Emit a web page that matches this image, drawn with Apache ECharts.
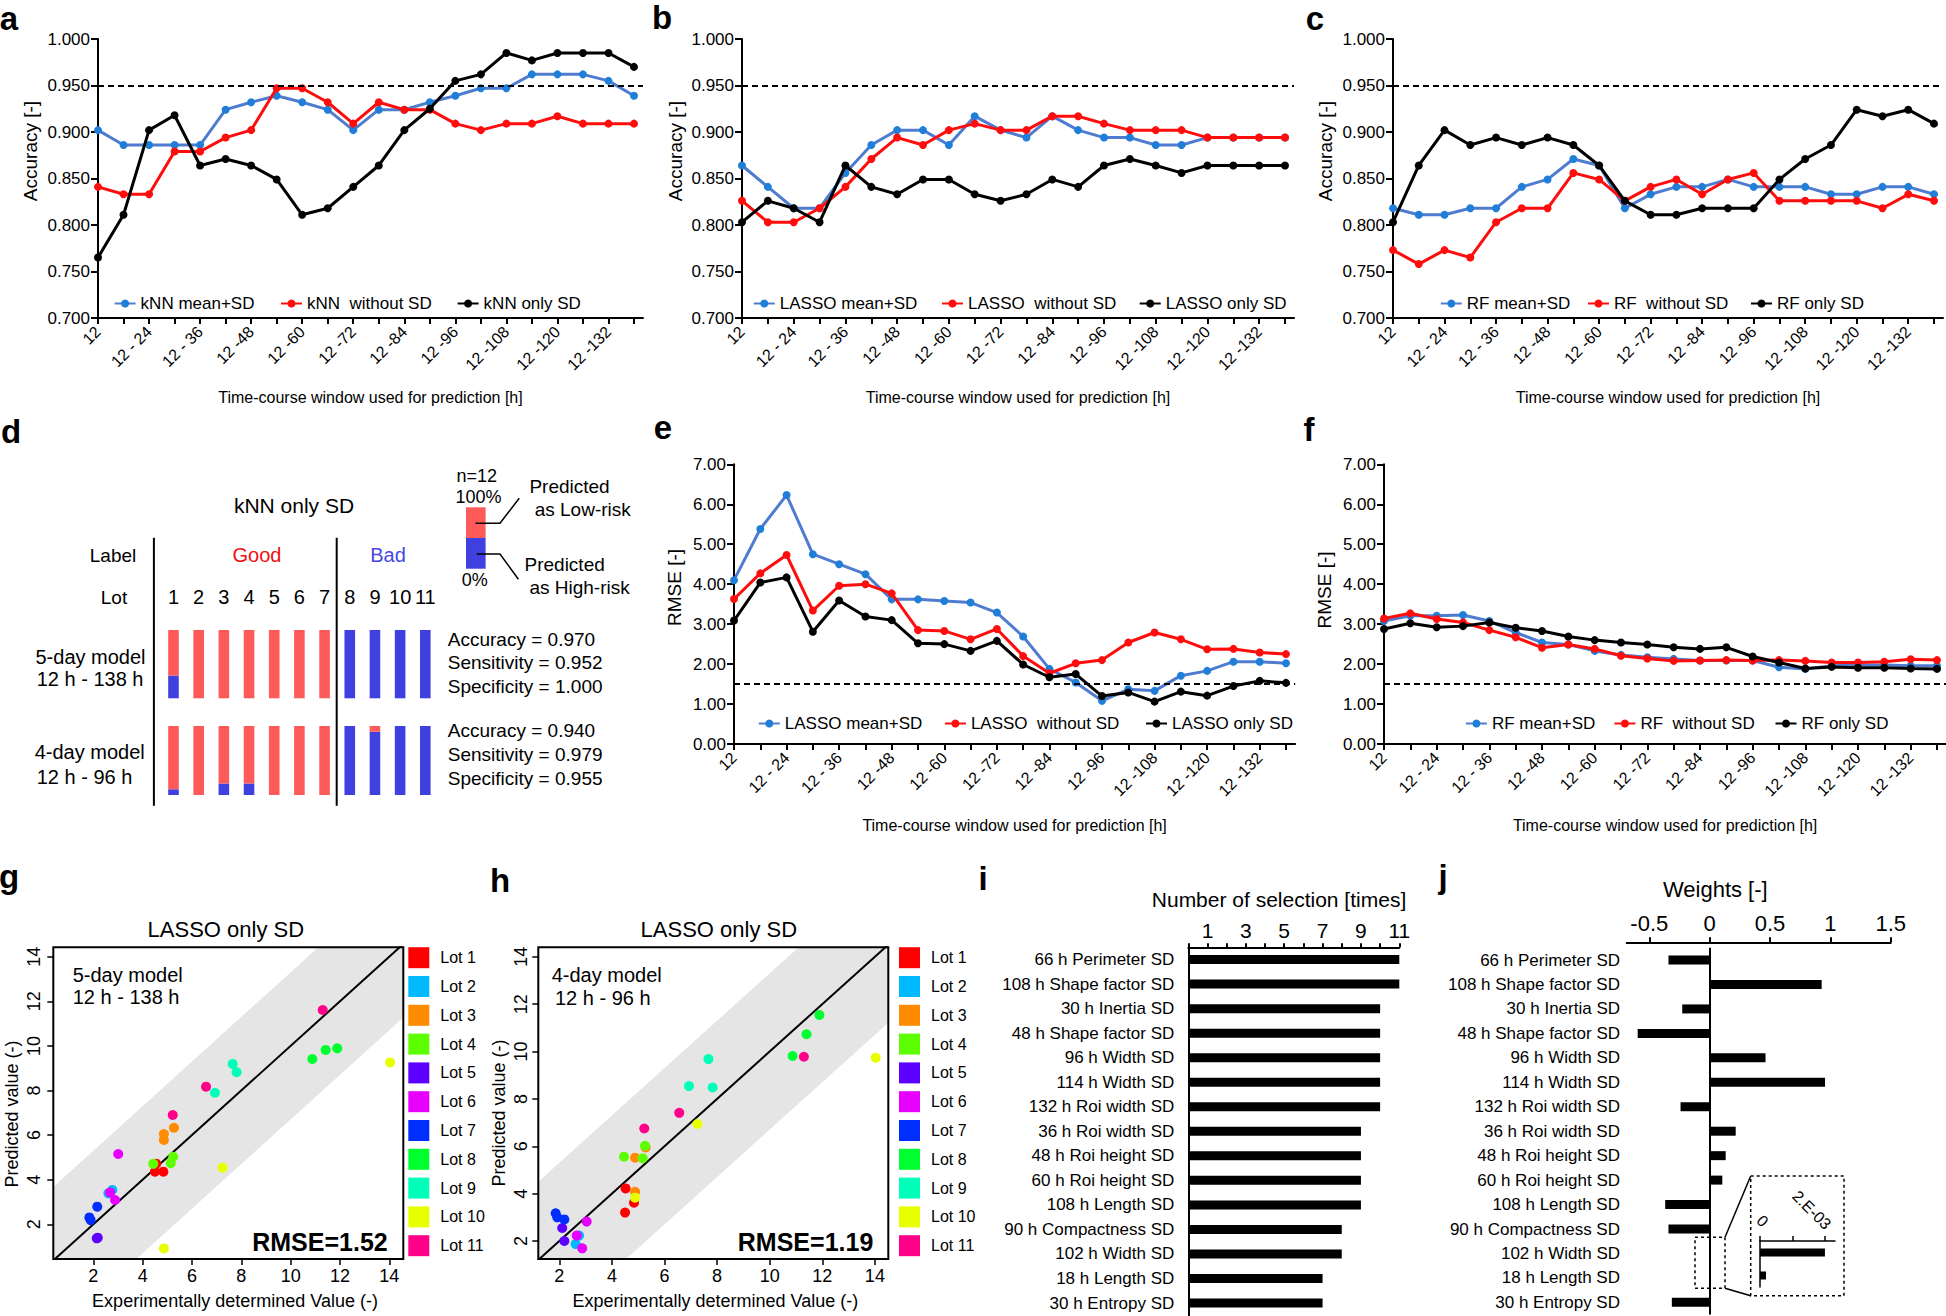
<!DOCTYPE html>
<html><head><meta charset="utf-8">
<script src="https://cdn.jsdelivr.net/npm/echarts@6/dist/echarts.min.js"></script>
<style>html,body{margin:0;padding:0;background:#fff}#c{width:1946px;height:1316px}</style>
</head><body><div id="c"></div>
<script>
const FF = '"Liberation Sans", Arial, Helvetica, sans-serif';

// ---------- data ----------
const windows = ['12','12 - 18','12 - 24','12 - 30','12 - 36','12 - 42','12 -48','12 -54','12 -60','12 -66','12 -72','12 -78','12 -84','12 -90','12 -96','12 -102','12 -108','12 -114','12 -120','12 -126','12 -132','12 -138'];

const kNN_meanSD = [0.902,0.886,0.886,0.886,0.886,0.924,0.932,0.939,0.932,0.924,0.902,0.924,0.924,0.932,0.939,0.947,0.947,0.962,0.962,0.962,0.955,0.939];
const kNN_noSD   = [0.841,0.833,0.833,0.879,0.879,0.894,0.902,0.947,0.947,0.932,0.909,0.932,0.924,0.924,0.909,0.902,0.909,0.909,0.917,0.909,0.909,0.909];
const kNN_onlySD = [0.765,0.811,0.902,0.918,0.864,0.871,0.864,0.849,0.811,0.818,0.841,0.864,0.902,0.925,0.955,0.962,0.985,0.977,0.985,0.985,0.985,0.970];

const LASSO_meanSD = [0.864,0.841,0.818,0.818,0.856,0.886,0.902,0.902,0.886,0.917,0.902,0.894,0.917,0.902,0.894,0.894,0.886,0.886,0.894,0.894,0.894,0.894];
const LASSO_noSD   = [0.826,0.803,0.803,0.818,0.841,0.871,0.894,0.886,0.902,0.909,0.902,0.902,0.917,0.917,0.909,0.902,0.902,0.902,0.894,0.894,0.894,0.894];
const LASSO_onlySD = [0.803,0.826,0.818,0.803,0.864,0.841,0.833,0.849,0.849,0.833,0.826,0.833,0.849,0.841,0.864,0.871,0.864,0.856,0.864,0.864,0.864,0.864];

const RF_meanSD = [0.818,0.811,0.811,0.818,0.818,0.841,0.849,0.871,0.864,0.818,0.833,0.841,0.841,0.849,0.841,0.841,0.841,0.833,0.833,0.841,0.841,0.833];
const RF_noSD   = [0.773,0.758,0.773,0.765,0.803,0.818,0.818,0.856,0.849,0.826,0.841,0.849,0.833,0.849,0.856,0.826,0.826,0.826,0.826,0.818,0.833,0.826];
const RF_onlySD = [0.803,0.864,0.902,0.886,0.894,0.886,0.894,0.886,0.864,0.826,0.811,0.811,0.818,0.818,0.818,0.849,0.871,0.886,0.924,0.917,0.924,0.909];

const rmseLASSO_meanSD = [4.10,5.38,6.23,4.75,4.50,4.25,3.62,3.62,3.58,3.54,3.29,2.69,1.88,1.54,1.08,1.37,1.33,1.71,1.83,2.06,2.06,2.02];
const rmseLASSO_noSD   = [3.63,4.27,4.73,3.34,3.96,4.00,3.77,2.85,2.83,2.62,2.88,2.20,1.77,2.02,2.10,2.54,2.79,2.62,2.37,2.38,2.29,2.25];
const rmseLASSO_onlySD = [3.09,4.04,4.17,2.81,3.59,3.19,3.10,2.52,2.50,2.33,2.58,1.99,1.67,1.75,1.20,1.29,1.06,1.31,1.21,1.45,1.58,1.53];

const rmseRF_meanSD = [3.08,3.21,3.21,3.23,3.08,2.79,2.54,2.49,2.33,2.23,2.17,2.13,2.09,2.09,2.09,1.92,1.88,1.96,1.98,1.98,1.96,1.96];
const rmseRF_noSD   = [3.14,3.27,3.13,3.04,2.85,2.67,2.41,2.49,2.38,2.21,2.14,2.08,2.09,2.10,2.09,2.10,2.08,2.04,2.04,2.06,2.12,2.10];
const rmseRF_onlySD = [2.88,3.02,2.92,2.95,3.04,2.91,2.83,2.69,2.60,2.54,2.49,2.42,2.38,2.42,2.19,2.04,1.89,1.93,1.91,1.91,1.89,1.88];

const accThreshold = 0.95;
const rmseThreshold = 1.5;

// panel d: counts out of n=12 predictions per lot
const lots = ['1','2','3','4','5','6','7','8','9','10','11'];
const day5_highRisk = [4,0,0,0,0,0,0,12,12,12,12];
const day5_lowRisk  = [8,12,12,12,12,12,12,0,0,0,0];
const day4_highRisk = [1,0,2,2,0,0,0,12,11,12,12];
const day4_lowRisk  = [11,12,10,10,12,12,12,0,1,0,0];

// panels g, h: [experimental, predicted] per lot
const lotNames = ['Lot 1','Lot 2','Lot 3','Lot 4','Lot 5','Lot 6','Lot 7','Lot 8','Lot 9','Lot 10','Lot 11'];
const lotColors = ['#FF0000','#00B9FF','#FF8B00','#5DFF00','#5D00FF','#E800FF','#002EFF','#00FF2E','#00FFB9','#E8FF00','#FF008B'];
const g_points = [
  [[4.50,4.36],[4.84,4.36],[4.55,4.72]],
  [[2.77,3.54],[2.61,3.39]],
  [[4.86,6.05],[4.86,5.78],[5.27,6.33]],
  [[4.43,4.71],[5.14,4.74],[5.24,5.03]],
  [[2.14,1.37],[2.18,1.40]],
  [[3.01,5.15],[2.68,3.43],[2.88,3.09]],
  [[2.16,2.79],[1.84,2.31],[1.89,2.19]],
  [[10.88,9.41],[11.42,9.82],[11.89,9.89]],
  [[6.93,7.90],[7.65,9.19],[7.81,8.82]],
  [[4.86,0.92],[7.24,4.54],[14.03,9.26]],
  [[6.57,8.17],[5.22,6.90],[11.30,11.61]]
];
const h_points = [
  [[4.52,4.22],[4.50,3.20],[4.84,3.62]],
  [[2.75,2.23],[2.62,1.87]],
  [[4.88,5.52],[4.88,4.08],[5.28,5.95]],
  [[4.46,5.56],[5.17,5.49],[5.26,6.02]],
  [[2.11,2.55],[2.19,2.00]],
  [[3.04,2.82],[2.66,2.23],[2.87,1.69]],
  [[1.86,3.17],[1.92,3.00],[2.19,2.91]],
  [[10.87,9.81],[11.40,10.73],[11.89,11.54]],
  [[6.93,8.54],[7.67,9.68],[7.83,8.48]],
  [[4.88,3.83],[7.25,6.94],[14.03,9.74]],
  [[5.23,6.75],[6.56,7.41],[11.30,9.78]]
];
const scatterTicks = [2,4,6,8,10,12,14];
const bandHalfWidth = 3.3;

// panels i, j
const features = ['66 h Perimeter SD','108 h Shape factor SD','30 h Inertia SD','48 h Shape factor SD','96 h Width SD','114 h Width SD','132 h Roi width SD','36 h Roi width SD','48 h Roi height SD','60 h Roi height SD','108 h Length SD','90 h Compactness SD','102 h Width SD','18 h Length SD','30 h Entropy SD'];
const selectionCount = [11,11,10,10,10,10,10,9,9,9,9,8,8,7,7];
const weights = [-0.341,0.928,-0.227,-0.596,0.463,0.956,-0.241,0.216,0.133,0.105,-0.368,-0.341,0.002,0.000185,-0.313];
const weightTicks = [-0.5,0,0.5,1,1.5];
const insetTicks = [0,0.001,0.002];
const insetTickLabels = ['0','2.E-03'];

// ---------- build ----------
const BLUE_LINE = '#4f7cd0', BLUE_DOT = '#1f7fd8', RED = '#ff0d0d', BLACK = '#000';
const grids = [], xAxes = [], yAxes = [], series = [], legends = [], graphics = [];
function addGrid(g){ grids.push(Object.assign({containLabel:false, outerBoundsMode:'none', show:false}, g)); return grids.length-1; }
const txt = (size, extra) => Object.assign({fontSize:size, fontFamily:FF, color:'#000'}, extra||{});

function T(text, x, y, size, o){
  o = o || {};
  const align = o.align || 'left';
  graphics.push({type:'text', x:x, y:y, rotation:o.rot||0, silent:true, z:10, style:{text:text, fill:o.color||'#000',
    font:(o.bold?'bold ':'') + size + 'px ' + FF, textAlign:align, align:align, textVerticalAlign:'middle', verticalAlign:'middle'}});
}
function L(x1,y1,x2,y2,w,dash){ graphics.push({type:'line', silent:true, z:10, shape:{x1,y1,x2,y2}, style:{stroke:'#000', lineWidth:w||2, lineDash:dash||null}}); }

// window index positions: every window gets a tick, every other one a label
const winIdx = windows.map((w,i) => i);
const winLabelIdx = winIdx.filter(i => i % 2 === 0);
const X_END = 21.35; // axis line runs a little past the last window

function linePanel(o){
  const gi = addGrid(o.grid);
  xAxes.push({type:'value', gridIndex:gi, min:0, max:X_END,
    axisLine:{show:true, onZero:false, lineStyle:{color:'#000', width:2}},
    axisTick:{show:true, customValues:winIdx, length:6, lineStyle:{color:'#000', width:2}},
    axisLabel:Object.assign(txt(16), {customValues:winLabelIdx, rotate:45, margin:11, formatter:v => windows[Math.round(v)]}),
    splitLine:{show:false},
    name:'Time-course window used for prediction [h]', nameLocation:'middle', nameGap:o.xNameGap,
    nameTextStyle:txt(16)});
  yAxes.push({type:'value', gridIndex:gi, min:o.yMin, max:o.yMax, interval:o.yInt,
    axisLine:{show:true, lineStyle:{color:'#000', width:2}},
    axisTick:{show:true, length:7, lineStyle:{color:'#000', width:2}},
    axisLabel:Object.assign(txt(17), {margin:8, formatter:v => v.toFixed(o.dec)}),
    splitLine:{show:false}});
  T(o.yName, o.yNamePos[0], o.yNamePos[1], 19, {align:'center', rot:Math.PI/2});
  o.series.forEach((s,k) => {
    const ser = {type:'line', name:s.name, xAxisIndex:gi, yAxisIndex:gi, data:s.data.map((v,i) => [i, v]),
      symbol:'circle', symbolSize:8, showSymbol:true, silent:true,
      lineStyle:{color:s.line, width:3}, itemStyle:{color:s.dot}, z:3+k};
    if (k===0) ser.markLine = {silent:true, symbol:'none', label:{show:false}, emphasis:{disabled:true},
      lineStyle:{color:'#000', width:2, type:[6,4]}, data:[{yAxis:o.ref}]};
    series.push(ser);
    legends.push({data:[s.name], left:o.legendX[k], top:o.legendY-9, itemWidth:21, itemHeight:10,
      padding:0, selectedMode:false, textStyle:txt(17)});
  });
}
const trio = (pre, a, b, c) => [
  {name:pre+' mean+SD', data:a, line:BLUE_LINE, dot:BLUE_DOT},
  {name:pre+'  without SD', data:b, line:RED, dot:RED},
  {name:pre+' only SD', data:c, line:BLACK, dot:BLACK}];

const accCfg = {yMin:0.7, yMax:1.0, yInt:0.05, dec:3, yName:'Accuracy [-]', ref:accThreshold, xNameGap:71, legendY:304};
const rmseCfg = {yMin:0, yMax:7, yInt:1, dec:2, yName:'RMSE [-]', ref:rmseThreshold, xNameGap:73, legendY:724};
const span = (first, last) => (last - first) / 21 * X_END;
linePanel(Object.assign({}, accCfg, {grid:{left:98, top:39, width:span(98,634), height:279}, yNamePos:[30,151],
  legendX:[113.6,280,456.6], series:trio('kNN', kNN_meanSD, kNN_noSD, kNN_onlySD)}));
linePanel(Object.assign({}, accCfg, {grid:{left:742, top:39, width:span(742,1285), height:279}, yNamePos:[675,151],
  legendX:[752.8,941,1138.7], series:trio('LASSO', LASSO_meanSD, LASSO_noSD, LASSO_onlySD)}));
linePanel(Object.assign({}, accCfg, {grid:{left:1393, top:39, width:span(1393,1934), height:279}, yNamePos:[1325.5,151],
  legendX:[1439.8,1587,1750], series:trio('RF', RF_meanSD, RF_noSD, RF_onlySD)}));
linePanel(Object.assign({}, rmseCfg, {grid:{left:734, top:464.3, width:span(734,1286), height:279.7}, yNamePos:[674,587.5],
  legendX:[757.8,943.9,1145], series:trio('LASSO', rmseLASSO_meanSD, rmseLASSO_noSD, rmseLASSO_onlySD)}));
linePanel(Object.assign({}, rmseCfg, {grid:{left:1384, top:464.3, width:span(1384,1937), height:279.7}, yNamePos:[1324,590],
  legendX:[1464.9,1613.4,1774.5], series:trio('RF', rmseRF_meanSD, rmseRF_noSD, rmseRF_onlySD)}));

// panel d
const D_RED = '#ff5a5a', D_BLUE = '#4040e0';
function dPanel(top, height, high, low, showLots){
  const gi = addGrid({left:160.9, top:top, width:277, height:height});
  xAxes.push({type:'category', gridIndex:gi, data:lots, position:'top', show:showLots,
    axisLine:{show:false}, axisTick:{show:false}, axisLabel:Object.assign(txt(20), {margin:23, interval:0}), splitLine:{show:false}});
  yAxes.push({type:'value', gridIndex:gi, min:0, max:12, show:false, splitLine:{show:false}});
  series.push({type:'bar', xAxisIndex:gi, yAxisIndex:gi, stack:'d'+gi, data:high, barWidth:10.6, silent:true, itemStyle:{color:D_BLUE}});
  series.push({type:'bar', xAxisIndex:gi, yAxisIndex:gi, stack:'d'+gi, data:low, barWidth:10.6, silent:true, itemStyle:{color:D_RED}});
}
dPanel(630, 68.3, day5_highRisk, day5_lowRisk, true);
dPanel(726, 69, day4_highRisk, day4_lowRisk, false);

// panels g, h
function scatterPanel(o){
  const gi = addGrid({left:o.left, top:947.3, width:350, height:311.7, show:true, borderColor:'#000', borderWidth:2, backgroundColor:'transparent', z:2});
  xAxes.push({type:'value', gridIndex:gi, min:o.xMin, max:o.xMax,
    axisLine:{show:false, onZero:false}, axisTick:{show:true, customValues:scatterTicks, length:6, lineStyle:{color:'#000', width:1.5}},
    axisLabel:Object.assign(txt(18), {customValues:scatterTicks, margin:8}), splitLine:{show:false}});
  yAxes.push({type:'value', gridIndex:gi, min:o.yMin, max:o.yMax,
    axisLine:{show:false, onZero:false}, axisTick:{show:true, customValues:scatterTicks, length:6, lineStyle:{color:'#000', width:1.5}},
    axisLabel:Object.assign(txt(18), {customValues:scatterTicks, rotate:90, margin:o.yLabMargin}), splitLine:{show:false}});
  T('Experimentally determined Value (-)', o.xNamePos[0], o.xNamePos[1], 18, {align:'center'});
  T('Predicted value (-)', o.yNamePos[0], o.yNamePos[1], 18, {align:'center', rot:Math.PI/2});
  series.push({type:'custom', xAxisIndex:gi, yAxisIndex:gi, data:[0], clip:true, silent:true, z:0,
    renderItem:(params, api) => {
      const poly = [[-5,-5+bandHalfWidth],[20,20+bandHalfWidth],[20,20-bandHalfWidth],[-5,-5-bandHalfWidth]].map(p => api.coord(p));
      return {type:'polygon', shape:{points:poly}, style:{fill:'#e5e5e5'}};
    }});
  series.push({type:'line', xAxisIndex:gi, yAxisIndex:gi, data:[[-5,-5],[20,20]], symbol:'none', clip:true, silent:true,
    lineStyle:{color:'#000', width:2}, z:3});
  o.points.forEach((pts,k) => series.push({type:'scatter', name:lotNames[k], xAxisIndex:gi, yAxisIndex:gi, data:pts,
    symbolSize:10, silent:true, itemStyle:{color:lotColors[k], opacity:1}, z:4}));
  legends.push({data:lotNames, orient:'vertical', left:o.legX, top:947.2, itemWidth:21, itemHeight:21, itemGap:7.8,
    icon:'rect', padding:0, selectedMode:false, textStyle:Object.assign(txt(16), {padding:[0,0,0,6]})});
}
scatterPanel({left:53.3, xMin:0.378, xMax:14.567, yMin:0.444, yMax:14.42, yLabMargin:10, legX:408.3, points:g_points,
  xNamePos:[235,1300.7], yNamePos:[12,1114]});
scatterPanel({left:538.3, xMin:1.20, xMax:14.51, yMin:1.24, yMax:14.40, yLabMargin:8.6, legX:899, points:h_points,
  xNamePos:[715.3,1300.7], yNamePos:[499,1113]});

// panel i
(function(){
  const gi = addGrid({left:1188.3, top:947.3, width:211, height:368});
  xAxes.push({type:'value', gridIndex:gi, position:'top', min:0, max:11, interval:1,
    axisLine:{show:true, onZero:false, lineStyle:{color:'#000', width:2}},
    axisTick:{show:true, length:4, lineStyle:{color:'#000', width:2}},
    axisLabel:Object.assign(txt(21), {margin:6, formatter:v => (v % 2 === 1 ? String(v) : '')}), splitLine:{show:false}});
  yAxes.push({type:'category', gridIndex:gi, data:features, inverse:true,
    axisLine:{show:true, onZero:false, lineStyle:{color:'#000', width:2}}, axisTick:{show:false},
    axisLabel:Object.assign(txt(17), {margin:14, interval:0}), splitLine:{show:false}});
  series.push({type:'bar', xAxisIndex:gi, yAxisIndex:gi, data:selectionCount, barWidth:9, silent:true, itemStyle:{color:'#000'}});
})();

// panel j
(function(){
  const gi = addGrid({left:1626.7, top:947.8, width:264, height:366.8});
  xAxes.push({type:'value', gridIndex:gi, position:'top', offset:5.5, min:-0.687, max:1.5,
    axisLine:{show:true, onZero:false, lineStyle:{color:'#000', width:2}},
    axisTick:{show:true, customValues:weightTicks, length:5, lineStyle:{color:'#000', width:2}},
    axisLabel:Object.assign(txt(22), {customValues:weightTicks, margin:8, formatter:v => String(v)}), splitLine:{show:false}});
  yAxes.push({type:'category', gridIndex:gi, data:features, inverse:true,
    axisLine:{show:false, onZero:false}, axisTick:{show:false},
    axisLabel:Object.assign(txt(17), {margin:6.7, interval:0}), splitLine:{show:false}});
  series.push({type:'bar', xAxisIndex:gi, yAxisIndex:gi, data:weights, barWidth:9, silent:true, itemStyle:{color:'#000'},
    markLine:{silent:true, symbol:'none', label:{show:false}, emphasis:{disabled:true}, lineStyle:{color:'#000', width:2, type:'solid'}, data:[{xAxis:0}]}});
  // inset (zoom on the two smallest weights)
  const gi2 = addGrid({left:1760, top:1241, width:75, height:46});
  xAxes.push({type:'value', gridIndex:gi2, position:'top', min:0, max:0.00231,
    axisLine:{show:true, onZero:false, lineStyle:{color:'#000', width:1.5}},
    axisTick:{show:true, customValues:insetTicks, length:5, lineStyle:{color:'#000', width:1.5}},
    axisLabel:{show:false}, splitLine:{show:false}});
  yAxes.push({type:'category', gridIndex:gi2, data:features.slice(12,14), inverse:true,
    axisLine:{show:true, onZero:false, lineStyle:{color:'#000', width:1.5}}, axisTick:{show:false}, axisLabel:{show:false}, splitLine:{show:false}});
  series.push({type:'bar', xAxisIndex:gi2, yAxisIndex:gi2, data:weights.slice(12,14), barWidth:8, silent:true, itemStyle:{color:'#000'}});
})();

// ---------- texts & decorations ----------
[['a',9,18],['b',662,17],['c',1315,18],['d',11,431],['e',663,427],['f',1309,429],['g',9,876],['h',500,880],['i',983,878],['j',1443,876]]
  .forEach(p => T(p[0], p[1], p[2], 33, {bold:true, align:'center'}));

// panel d
T('kNN only SD', 294, 505, 21, {align:'center'});
T('Label', 113, 555, 19, {align:'center'});
T('Good', 257, 555, 20, {align:'center', color:'#f01010'});
T('Bad', 388, 555, 20, {align:'center', color:'#4848e0'});
T('Lot', 114, 597, 19, {align:'center'});
T('5-day model', 35.5, 657.3, 20); T('12 h - 138 h', 36.7, 679.3, 20);
T('4-day model', 34.7, 751.7, 20); T('12 h - 96 h', 36.7, 776.7, 20);
T('Accuracy = 0.970', 447.8, 639.3, 19); T('Sensitivity = 0.952', 447.8, 662.7, 19); T('Specificity = 1.000', 447.8, 686.7, 19);
T('Accuracy = 0.940', 447.8, 730.7, 19); T('Sensitivity = 0.979', 447.8, 754, 19); T('Specificity = 0.955', 447.8, 778.3, 19);
L(153.9, 537.7, 153.9, 805.7, 2); L(336.7, 537.7, 336.7, 805.7, 2);
T('n=12', 476.7, 475.7, 18, {align:'center'}); T('100%', 478.4, 497.3, 18, {align:'center'}); T('0%', 474.7, 580, 18, {align:'center'});
T('Predicted', 529.4, 486, 19); T('as Low-risk', 534.7, 509.3, 19);
T('Predicted', 524.5, 564.3, 19); T('as High-risk', 529.4, 587.7, 19);
graphics.push({type:'rect', silent:true, shape:{x:466, y:507.3, width:19.6, height:30.7}, style:{fill:D_RED}});
graphics.push({type:'rect', silent:true, shape:{x:466, y:538, width:19.6, height:30.7}, style:{fill:D_BLUE}});
graphics.push({type:'polyline', silent:true, z:10, shape:{points:[[475.5,523.3],[500,523.3],[519.2,498.3]]}, style:{stroke:'#000', lineWidth:1.5, fill:null}});
graphics.push({type:'polyline', silent:true, z:10, shape:{points:[[476.7,554],[500,554],[518.4,579.3]]}, style:{stroke:'#000', lineWidth:1.5, fill:null}});

// panels g, h
T('LASSO only SD', 225.8, 929.3, 22, {align:'center'});
T('LASSO only SD', 718.8, 929.3, 22, {align:'center'});
T('5-day model', 72.7, 975, 20); T('12 h - 138 h', 72.7, 996.7, 20);
T('4-day model', 551.7, 975, 20); T('12 h - 96 h', 555, 998, 20);
T('RMSE=1.52', 387.7, 1242.3, 25, {bold:true, align:'right'});
T('RMSE=1.19', 873.3, 1242.3, 25, {bold:true, align:'right'});

// panels i, j
T('Number of selection [times]', 1279, 899.3, 21, {align:'center'});
T('Weights [-]', 1715.3, 889.3, 22, {align:'center'});
graphics.push({type:'rect', silent:true, z:10, shape:{x:1695, y:1237.3, width:30, height:51}, style:{fill:'none', stroke:'#000', lineWidth:1.5, lineDash:[3,3]}});
graphics.push({type:'rect', silent:true, z:10, shape:{x:1750.7, y:1176, width:93.3, height:119.7}, style:{fill:'none', stroke:'#000', lineWidth:1.5, lineDash:[3,3]}});
L(1725, 1237.3, 1750.7, 1176, 1.5); L(1725, 1288.3, 1750.7, 1295.7, 1.5);
// inset tick labels (rotated, reading down-right)
T(insetTickLabels[0], 1762.5, 1221, 16, {align:'center', rot:-Math.PI/4});
T(insetTickLabels[1], 1811.7, 1210, 16, {align:'center', rot:-Math.PI/4});

const chart = echarts.init(document.getElementById('c'), null, {renderer:'svg', width:1946, height:1316});
chart.setOption({
  animation:false, backgroundColor:'#fff',
  textStyle:{fontFamily:FF},
  grid:grids, xAxis:xAxes, yAxis:yAxes, series:series, legend:legends, graphic:graphics
});
</script>
</body></html>
